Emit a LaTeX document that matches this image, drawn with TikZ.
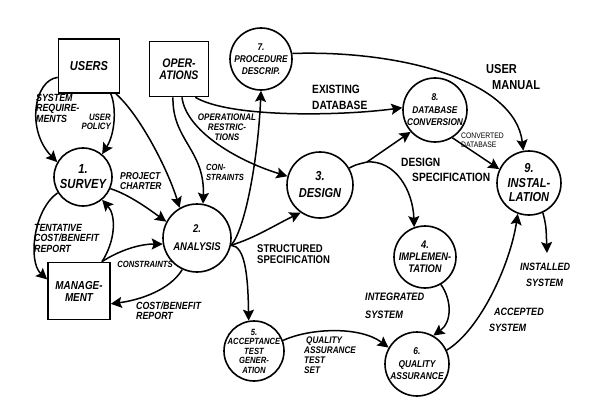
\documentclass[tikz,border=0pt]{standalone}
\usepackage{fontspec}
\setmainfont{Liberation Sans}[FakeStretch=0.85]
\usetikzlibrary{arrows.meta}
\newcommand\myfs[2]{\fontsize{#1}{#2}\selectfont}
\begin{document}
\begin{tikzpicture}[x=1pt,y=-1pt,
  proc/.style={circle, draw, line width=1.6pt, inner sep=-4pt, align=center, font=\bfseries\itshape},
  ext/.style={rectangle, draw, line width=1.6pt, inner sep=0pt, align=center, font=\bfseries\itshape},
  arr/.style={-{Stealth[length=11pt,width=11pt,inset=2pt]}, line width=1.5pt},
  lbl/.style={inner sep=0pt, align=left, font=\bfseries\itshape}]
\useasboundingbox (0,0) rectangle (592,412);
% external entities
\node[ext, minimum width=61pt, minimum height=54pt, font=\bfseries\itshape\myfs{13}{15}] (users) at (89,66) {USERS};
\node[ext, minimum width=59pt, minimum height=55pt, font=\bfseries\itshape\myfs{12.4}{12.5}] (ops) at (179,69) {OPER-\\ATIONS};
\node[ext, minimum width=62pt, minimum height=57pt, font=\bfseries\itshape\myfs{11.6}{12}] (mgmt) at (79,291) {MANAGE-\\MENT};
% processes
\node[proc, minimum size=62pt, font=\bfseries\itshape\myfs{9.8}{12}] (proc7) at (261,59) {7.\\PROCEDURE\\DESCRIP.};
\node[proc, minimum size=64pt, font=\bfseries\itshape\myfs{9.8}{12.5}] (db) at (435,110) {8.\\DATABASE\\CONVERSION};
\node[proc, minimum size=64pt, font=\bfseries\itshape\myfs{13}{14.5}] (inst) at (529,183) {9.\\INSTAL-\\LATION};
\node[proc, minimum size=58pt, font=\bfseries\itshape\myfs{13.2}{15}] (survey) at (83,177) {1.\\SURVEY};
\node[proc, minimum size=68pt, font=\bfseries\itshape\myfs{11.2}{18}] (analysis) at (197,238) {2.\\ANALYSIS};
\node[proc, minimum size=66pt, font=\bfseries\itshape\myfs{13}{17}] (design) at (320,185) {3.\\DESIGN};
\node[proc, minimum size=62pt, font=\bfseries\itshape\myfs{11}{12}] (impl) at (425,257) {4.\\IMPLEMEN-\\TATION};
\node[proc, minimum size=60pt, font=\bfseries\itshape\myfs{9}{9.5}] (acc) at (254,351) {5.\\ACCEPTANCE\\TEST\\GENER-\\ATION};
\node[proc, minimum size=64pt, font=\bfseries\itshape\myfs{9.9}{12.5}] (qa) at (417,364) {6.\\QUALITY\\ASSURANCE};
% connectors
\draw[arr] (users.200) .. controls (34,80) and (26,130) .. (survey.150);
\draw[arr] (users.-52) .. controls (116,105) and (116,132) .. (survey.50);
\draw[arr] (users.-46) .. controls (140,115) and (168,170) .. (analysis.120);
\draw[arr] (survey.-23) .. controls (130,195) and (150,210) .. (analysis.152);
\draw[arr] (ops.-102) .. controls (172,140) and (205,150) .. (analysis.80);
\draw[arr] (ops.-84) .. controls (186,130) and (235,160) .. (design.165);
\draw[arr] (ops.-60) .. controls (230,118) and (340,116) .. (db.176);
\draw[arr] (analysis.-12) .. controls (245,230) and (258,160) .. (proc7.south);
\draw[arr] (analysis.-12) .. controls (255,238) and (275,225) .. (design.235);
\draw[arr] (analysis.-12) .. controls (245,246) and (248,275) .. (acc.100);
\draw[arr] (analysis.245) .. controls (170,290) and (140,300) .. (mgmt.-22);
\draw[arr] (mgmt.52) .. controls (120,250) and (140,244) .. (analysis.190);
\draw[arr] (survey.212) .. controls (33,210) and (28,262) .. (mgmt.160);
\draw[arr] (mgmt.52) .. controls (116,240) and (116,215) .. (survey.-50);
\draw[arr] (proc7.10) .. controls (400,50) and (515,80) .. (inst.100);
\coordinate (br) at (367,162);
\draw[arr] (design.30) .. controls (355,165) .. (br) -- (db.222);
\draw[arr] (br) .. controls (395,160) and (413,190) .. (impl.110);
\draw[arr] (db.-58) -- (inst.155);
\coordinate (instout) at (547,253);
\draw[arr] (inst.-65) .. controls (546,225) .. (instout);
\draw[arr] (impl.-60) .. controls (452,300) and (452,322) .. (qa.60);
\draw[arr] (acc.20) .. controls (310,328) and (360,326) .. (qa.150);
\draw[arr] (qa.25) .. controls (480,330) and (510,265) .. (inst.250);
% labels
\node[lbl, anchor=west, font=\bfseries\itshape\myfs{10.4}{10.5}] (l1) at (36,108) {SYSTEM\\REQUIRE-\\MENTS};
\node[lbl, anchor=east, align=right, font=\bfseries\itshape\myfs{9.2}{9.5}] (l2) at (111,122) {USER\\POLICY};
\node[lbl, anchor=west, font=\bfseries\itshape\myfs{10}{10.5}] (l3) at (120,181) {PROJECT\\CHARTER};
\node[lbl, align=center, font=\bfseries\itshape\myfs{9.5}{10}] (l4) at (227,127) {OPERATIONAL\\RESTRIC-\\TIONS};
\node[lbl, anchor=west, font=\bfseries\itshape\myfs{8.9}{10}] (l5) at (206,172) {CON-\\STRAINTS};
\node[lbl, anchor=west, font=\bfseries\myfs{12}{16}] (l6) at (312,97) {EXISTING\\DATABASE};
\node[lbl, anchor=west, font=\bfseries\myfs{13}{16}] (l7) at (486,77) {USER\\\hspace*{6pt}MANUAL};
\node[lbl, anchor=west, font=\bfseries\myfs{12}{15}] (l8) at (401,170) {DESIGN\\\hspace*{11pt}SPECIFICATION};
\node[lbl, anchor=west, font=\myfs{8}{8.5}] (l9) at (461,140) {CONVERTED\\DATABASE};
\node[lbl, anchor=west, font=\bfseries\myfs{11.2}{11}] (l10) at (257,254) {STRUCTURED\\SPECIFICATION};
\node[lbl, anchor=west, font=\bfseries\itshape\myfs{10.4}{10.5}] (l11) at (136,311) {COST/BENEFIT\\REPORT};
\node[lbl, font=\bfseries\itshape\myfs{9}{9}] (l12) at (145,264) {CONSTRAINTS};
\node[lbl, anchor=west, font=\bfseries\itshape\myfs{10.4}{10.5}] (l13) at (34,238) {TENTATIVE\\COST/BENEFIT\\REPORT};
\node[lbl, anchor=west, font=\bfseries\itshape\myfs{10.6}{16}] (l14) at (520,275) {INSTALLED\\\hspace*{6pt}SYSTEM};
\node[lbl, anchor=west, font=\bfseries\itshape\myfs{10.8}{18}] (l15) at (365,306) {INTEGRATED\\SYSTEM};
\node[lbl, anchor=west, font=\bfseries\itshape\myfs{9.6}{10}] (l16) at (304,355) {\hspace*{2pt}QUALITY\\ASSURANCE\\TEST\\SET};
\node[lbl, anchor=west, font=\bfseries\itshape\myfs{10.6}{16}] (l17) at (489,320) {\hspace*{5pt}ACCEPTED\\SYSTEM};
\end{tikzpicture}
\end{document}
